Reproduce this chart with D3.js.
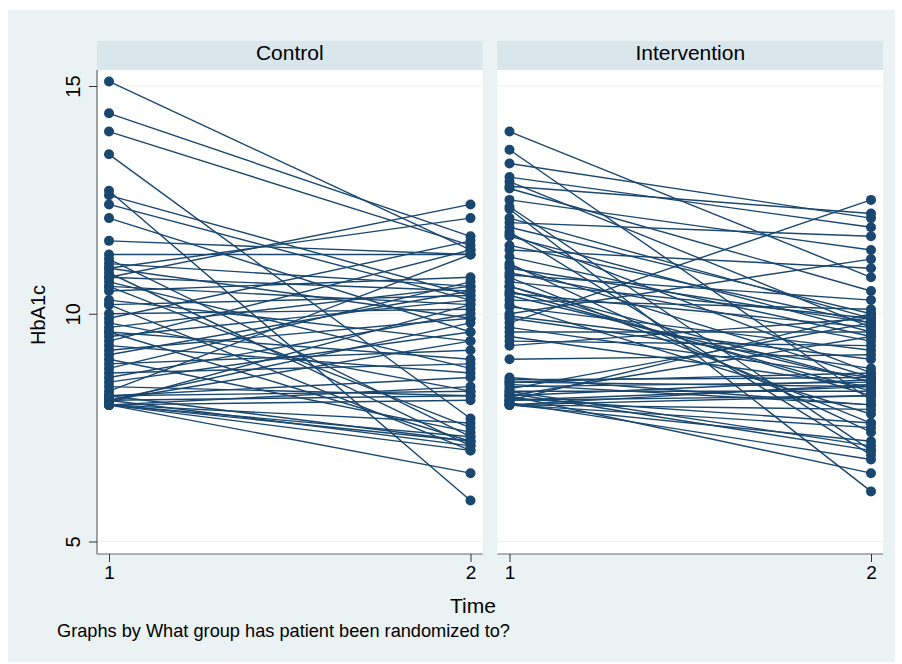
<!DOCTYPE html>
<html>
<head>
<meta charset="utf-8">
<script src="https://cdn.jsdelivr.net/npm/d3@7"></script>
<style>
  body { margin:0; background:#fff; }
  svg { display:block; font-family:"Liberation Sans", Arial, sans-serif; }
</style>
</head>
<body>
<svg id="chart" width="902" height="664"></svg>
<script>
// panel titles and axis ticks
const groups = ['Control', 'Intervention'];
const yTicks = [5, 10, 15];
const xTicks = [1, 2];

// HbA1c per patient at time 1 and time 2, control group
const ctrlT1 = [15.1, 14.4, 14.0, 13.5, 12.7, 12.6, 12.4, 12.1, 11.6,
                11.3, 11.2, 11.1, 11.0, 11.0, 10.9, 10.8, 10.8, 10.7, 10.6, 10.6, 10.5, 10.3, 10.2, 10.2,
                10.0, 9.9, 9.8, 9.7, 9.6, 9.6, 9.5, 9.4, 9.3, 9.2, 9.1, 9.0, 8.9, 8.8, 8.7, 8.6, 8.5, 8.4,
                8.3, 8.2, 8.2, 8.1, 8.1, 8.1, 8.0, 8.0, 8.0, 8.0, 8.0, 8.0, 8.05, 8.1, 8.2, 8.0];
const ctrlT2 = [11.4, 11.7, 11.5, 7.7, 5.9, 10.4, 10.3, 9.6, 11.3,
                11.3, 7.3, 10.6, 9.9, 12.1, 7.1, 12.4, 10.5, 8.8, 10.2, 7.5, 10.8, 9.4, 10.4, 7.0,
                10.1, 11.6, 8.3, 10.6, 9.0, 7.2, 10.3, 11.4, 8.7, 9.9, 10.5, 7.4, 9.2, 10.7, 8.9, 10.0, 9.6, 8.2,
                11.3, 8.3, 7.2, 8.2, 7.1, 9.4, 8.1, 7.0, 6.5, 7.3, 8.4, 7.2, 10.2, 9.8, 8.6, 7.6];

// intervention group
const intT1 = [14.0, 13.6, 13.3, 13.0, 12.9, 12.8, 12.75, 12.5, 12.3, 12.0, 11.9, 11.8, 11.7, 11.75,
               11.4, 11.25, 11.1, 11.0, 11.05, 10.85, 10.8, 10.7, 10.6, 10.5, 10.45, 10.4, 10.3, 10.2, 10.15,
               10.0, 9.95, 9.8, 9.7, 9.6, 9.5, 9.3, 9.0,
               8.6, 8.55, 8.5, 8.45, 8.4, 8.35, 8.3, 8.25, 8.2, 8.2, 8.15, 8.1, 8.1, 8.05, 8.0, 8.0, 8.0,
               12.35, 8.0, 8.1, 8.3, 8.5, 8.0, 9.4, 9.9, 10.9, 11.5, 12.1, 10.6, 8.2];
const intT2 = [10.8, 8.1, 12.1, 11.9, 9.7, 12.2, 10.5, 11.4, 6.1, 11.7, 10.0, 6.9, 9.6, 8.7,
               11.0, 9.5, 7.4, 9.8, 8.6, 10.3, 7.6, 9.9, 8.2, 8.3, 9.7, 8.5, 10.1, 7.8, 9.2,
               11.2, 9.0, 12.5, 8.6, 9.6, 8.4, 9.9, 9.1,
               8.0, 8.6, 8.4, 8.0, 8.5, 9.8, 8.3, 7.0, 8.55, 6.5, 7.6, 10.0, 8.2, 6.8, 7.2, 8.45, 7.5,
               7.0, 7.9, 8.4, 7.1, 8.7, 8.2, 9.3, 8.8, 9.4, 9.8, 9.9, 8.5, 9.5];

const series = [d3.zip(ctrlT1, ctrlT2), d3.zip(intT1, intT2)];

const navy = '#1a476f';
const svg = d3.select('#chart');

// outer graph region
svg.append('rect').attr('x', 8).attr('y', 10).attr('width', 887).attr('height', 652)
   .attr('fill', '#eaf2f3');

const plotTop = 70, plotBottom = 554;
const panels = [{x0: 97, x1: 482.5}, {x0: 497.5, x1: 883}];

const y = d3.scaleLinear().domain([5, 15]).range([541.5, 86]);

panels.forEach((p, k) => {
   const g = svg.append('g');
   const x = d3.scaleLinear().domain([1, 2]).range([p.x0 + 12, p.x1 - 12]);

   // header strip
   g.append('rect').attr('x', p.x0).attr('y', 41).attr('width', p.x1 - p.x0).attr('height', plotTop - 41)
    .attr('fill', '#d9e6eb');
   g.append('text').attr('x', (p.x0 + p.x1) / 2).attr('y', 60).attr('text-anchor', 'middle')
    .attr('font-size', 21).attr('fill', '#000').text(groups[k]);

   // plot region
   g.append('rect').attr('x', p.x0).attr('y', plotTop).attr('width', p.x1 - p.x0).attr('height', plotBottom - plotTop)
    .attr('fill', '#fff');

   g.selectAll('line.grid').data(yTicks).join('line').attr('class', 'grid')
    .attr('x1', p.x0).attr('x2', p.x1).attr('y1', d => y(d)).attr('y2', d => y(d))
    .attr('stroke', '#eaf2f3').attr('stroke-width', 1.2);

   // lines then markers
   g.selectAll('line.pat').data(series[k]).join('line').attr('class', 'pat')
    .attr('x1', x(1)).attr('x2', x(2)).attr('y1', d => y(d[0])).attr('y2', d => y(d[1]))
    .attr('stroke', navy).attr('stroke-width', 1.4);
   const pts = series[k].flatMap(d => [[1, d[0]], [2, d[1]]]);
   g.selectAll('circle').data(pts).join('circle')
    .attr('cx', d => x(d[0])).attr('cy', d => y(d[1])).attr('r', 5)
    .attr('fill', navy);

   // x axis
   const xa = g.append('g').attr('transform', `translate(0,${plotBottom})`)
    .call(d3.axisBottom(x).tickValues(xTicks).tickFormat(d3.format('d')).tickSize(8).tickPadding(4));
   xa.select('.domain').attr('d', `M${p.x0},0H${p.x1}`).attr('stroke', '#666').attr('stroke-width', 1.2);
   xa.selectAll('.tick line').attr('stroke', '#333');
   xa.selectAll('.tick text').attr('font-size', 19).attr('fill', '#000').attr('font-family', null);

   if (k === 0) {
      const ya = g.append('g').attr('transform', `translate(${p.x0},0)`)
       .call(d3.axisLeft(y).tickValues(yTicks).tickSize(8).tickPadding(0));
      ya.select('.domain').attr('d', `M0,${plotTop}V${plotBottom}`).attr('stroke', '#666').attr('stroke-width', 1.2);
      ya.selectAll('.tick line').attr('stroke', '#333');
      ya.selectAll('.tick text').attr('font-size', 20).attr('fill', '#000').attr('font-family', null)
        .attr('text-anchor', 'middle').attr('x', null)
        .attr('transform', 'translate(-24,0) rotate(-90)').attr('dy', '0.35em');
   }
});

// axis titles and note
svg.append('text').attr('transform', 'translate(45,315) rotate(-90)').attr('text-anchor', 'middle')
   .attr('font-size', 20).text('HbA1c');
svg.append('text').attr('x', 473).attr('y', 613).attr('text-anchor', 'middle')
   .attr('font-size', 21).text('Time');
svg.append('text').attr('x', 57).attr('y', 637)
   .attr('font-size', 18.2).text('Graphs by What group has patient been randomized to?');
</script>
</body>
</html>
